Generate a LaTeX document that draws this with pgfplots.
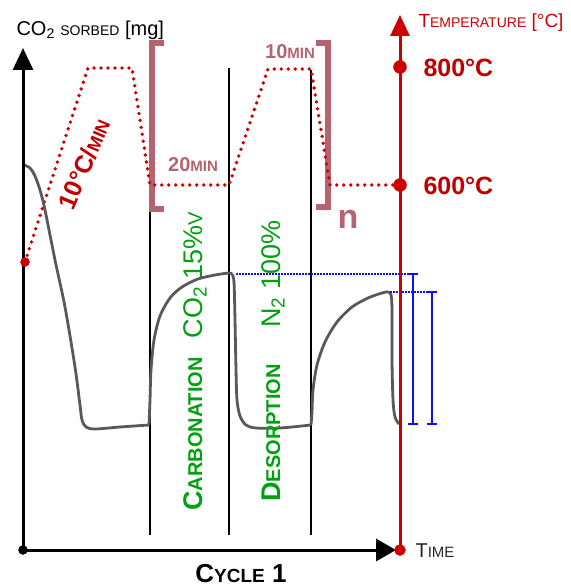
\documentclass[border=0pt]{standalone}
\usepackage{fontspec}
\setmainfont{Liberation Sans}
\usepackage{pgfplots}
\pgfplotsset{compat=1.18}
\usetikzlibrary{arrows.meta}
\definecolor{axred}{HTML}{CC0000}
\definecolor{dred}{HTML}{C00000}
\definecolor{rosy}{HTML}{B5646F}
\definecolor{grn}{HTML}{00A010}
\definecolor{gry}{HTML}{595959}
\definecolor{blu}{HTML}{1010F0}
\newcommand{\fs}[1]{\fontsize{#1}{#1}\selectfont}
\begin{document}
\begin{tikzpicture}
\begin{axis}[name=main, scale only axis, width=570pt, height=588pt,
  xmin=0, xmax=570, ymin=0, ymax=588, y dir=reverse,
  axis lines=none, xtick=\empty, ytick=\empty, clip=false]

% thin phase lines
\addplot[black, line width=1.1pt] coordinates {(150,212) (150,535)};
\addplot[black, line width=1.1pt] coordinates {(229,68) (229,535)};
\addplot[black, line width=1.1pt] coordinates {(311,70) (311,535)};

% brackets
\addplot[rosy, line width=6.5pt, line join=miter] coordinates {(164,43) (152,43) (152,209) (164,209)};
\addplot[rosy, line width=6.5pt, line join=miter] coordinates {(316,43) (328,43) (328,207) (316,207)};

% temperature programme
\addplot[axred, line width=3.8pt, line cap=round, dash pattern=on 0pt off 7pt]
  coordinates {(25,262) (88,68) (132,68) (150,185) (229,185) (268,69) (311,69) (330,185) (400,185)};

% CO2 sorbed curve
\addplot[gry, line width=2.8pt, smooth, tension=0.5, line join=round] coordinates {
 (24,165) (30,168) (35,176) (40,190) (45,210) (55,260) (65,307) (75,367) (80,405) (82,420) (86,427) (95,429) (120,427) (149,425)};
\addplot[gry, line width=2.8pt, smooth, tension=0.5, line join=round] coordinates {
 (149,425) (150,400) (151,370) (154,340) (160,316) (170,298) (182,287) (198,279) (215,275) (229,273) (232,274)};
\addplot[gry, line width=2.8pt, smooth, tension=0.5, line join=round] coordinates {
 (232,274) (234,282) (235,320) (236,370) (237,400) (240,416) (246,425) (256,428) (280,428) (311,425)};
\addplot[gry, line width=2.8pt, smooth, tension=0.5, line join=round] coordinates {
 (311,425) (312,412) (313,390) (317,365) (325,342) (337,322) (352,307) (368,298) (382,293) (388,292) (391,295) (392,310) (392,360) (393,400) (395,417) (399,424)};

% blue references and capacity bars
\addplot[blu, line width=1.3pt, dash pattern=on 1.5pt off 1.5pt] coordinates {(236,274) (418,274)};
\addplot[blu, line width=1.3pt, dash pattern=on 1.5pt off 1.5pt] coordinates {(390,292) (437,292)};
\addplot[blu, line width=1.6pt] coordinates {(413,274) (413,424)};
\addplot[blu, line width=1.6pt] coordinates {(408,274) (418,274)};
\addplot[blu, line width=1.6pt] coordinates {(408,424) (418,424)};
\addplot[blu, line width=1.6pt] coordinates {(432,292) (432,424)};
\addplot[blu, line width=1.6pt] coordinates {(427,292) (437,292)};
\addplot[blu, line width=1.6pt] coordinates {(427,424) (437,424)};

% axes
\addplot[black, line width=3pt, -{Triangle[length=22pt,width=20pt]}] coordinates {(23,550) (23,48)};
\addplot[black, line width=3pt, -{Triangle[length=20pt,width=22pt]}] coordinates {(23,550) (396,550)};
\addplot[axred, line width=3pt, -{Triangle[length=21pt,width=19pt]}] coordinates {(400,550) (400,15)};

% dots
\addplot[only marks, mark=*, mark size=4.5pt, black] coordinates {(23,550)};
\addplot[only marks, mark=*, mark size=5.5pt, axred, mark options={draw=axred, fill=axred}] coordinates {(400,550)};
\addplot[only marks, mark=*, mark size=6.5pt, axred, mark options={draw=axred, fill=axred}] coordinates {(400,67) (400,185)};
\addplot[only marks, mark=*, mark size=4.5pt, axred, mark options={draw=axred, fill=axred}] coordinates {(25,262)};

% texts
\node[anchor=west] at (axis cs:13,30) {\fs{20}CO\textsubscript{2} {\fs{14}SORBED} [mg]};
\node[anchor=west, text=axred] at (axis cs:415,23) {\fs{19}T{\fs{14}EMPERATURE} [°C]};
\node[anchor=west, text=dred, font=\bfseries] at (axis cs:420,68) {\fs{25}800°C};
\node[anchor=west, text=dred, font=\bfseries] at (axis cs:420,186) {\fs{25}600°C};
\node[text=rosy, font=\bfseries] at (axis cs:290,52) {\fs{20}10{\fs{15}MIN}};
\node[text=rosy, font=\bfseries] at (axis cs:193,165) {\fs{20}20{\fs{15}MIN}};
\node[text=rosy, font=\bfseries] at (axis cs:348,219) {\fs{34}n};
\node[text=dred, font=\bfseries, rotate=67, inner sep=0pt] at (axis cs:84,164) {\fs{25}10°C/{\fs{18}MIN}};
\node[text=grn, font=\bfseries, rotate=90, anchor=base] at (axis cs:202,434) {\fs{27}C{\fs{20}ARBONATION}};
\node[text=grn, rotate=90, anchor=base] at (axis cs:202,275) {\fs{27}CO\textsubscript{2} 15\%{\fs{20}V}};
\node[text=grn, font=\bfseries, rotate=90, anchor=base] at (axis cs:280,433) {\fs{27}D{\fs{20}ESORPTION}};
\node[text=grn, rotate=90, anchor=base] at (axis cs:280,274) {\fs{27}N\textsubscript{2} 100\%};
\node[font=\bfseries, inner sep=0pt] at (axis cs:241,574) {\fs{26}C{\fs{19}YCLE} 1};
\node[anchor=west, text=black!85] at (axis cs:412,551) {\fs{20}T{\fs{15}IME}};
\end{axis}
\pgfresetboundingbox
\useasboundingbox (main.south west) rectangle (main.north east);
\end{tikzpicture}
\end{document}
